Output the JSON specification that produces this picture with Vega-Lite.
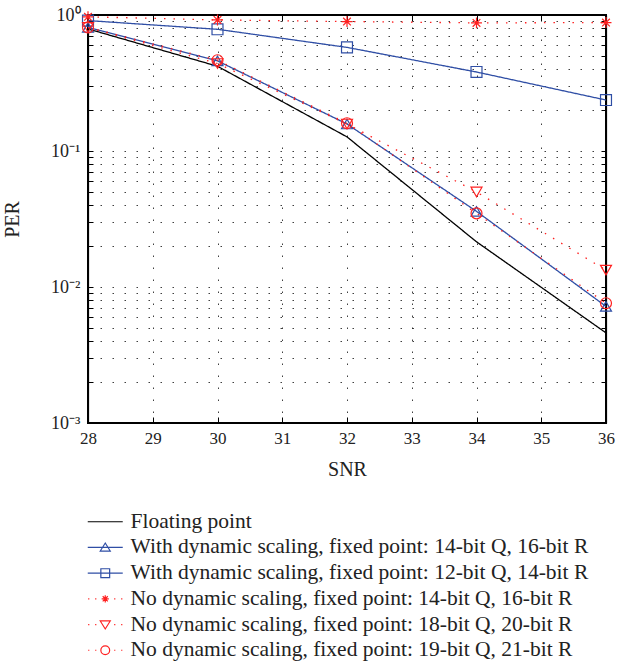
{
  "$schema": "https://vega.github.io/schema/vega-lite/v6.json",
  "width": 518,
  "height": 408,
  "padding": {"left": 2, "top": 6, "right": 5, "bottom": 5},
  "background": "white",
  "config": {
    "view": {"stroke": "#000000", "strokeWidth": 1.2, "strokeOpacity": 1},
    "font": "Liberation Serif",
    "axis": {
      "domainColor": "#000000",
      "domainWidth": 1.2,
      "domainOpacity": 1,
      "tickColor": "#000000",
      "tickWidth": 1,
      "tickOpacity": 1,
      "labelColor": "#222222",
      "titleColor": "#222222",
      "labelFont": "Liberation Serif",
      "titleFont": "Liberation Serif",
      "labelFontSize": 17,
      "titleFontSize": 20,
      "titleFontWeight": "normal",
      "labelFlush": false,
      "gridColor": "#000000",
      "gridOpacity": 0.75,
      "gridWidth": 1,
      "gridDash": [1.5, 10.5]
    }
  },
  "data": {
    "values": [
      {"series": "Floating point", "snr": 28, "per": 0.79},
      {"series": "Floating point", "snr": 30, "per": 0.42},
      {"series": "Floating point", "snr": 32, "per": 0.127},
      {"series": "Floating point", "snr": 34, "per": 0.0215},
      {"series": "Floating point", "snr": 36, "per": 0.0046},
      {"series": "With dynamic scaling, fixed point: 14-bit Q, 16-bit R", "snr": 28, "per": 0.81},
      {"series": "With dynamic scaling, fixed point: 14-bit Q, 16-bit R", "snr": 30, "per": 0.46},
      {"series": "With dynamic scaling, fixed point: 14-bit Q, 16-bit R", "snr": 32, "per": 0.158},
      {"series": "With dynamic scaling, fixed point: 14-bit Q, 16-bit R", "snr": 34, "per": 0.036},
      {"series": "With dynamic scaling, fixed point: 14-bit Q, 16-bit R", "snr": 36, "per": 0.0072},
      {"series": "With dynamic scaling, fixed point: 12-bit Q, 14-bit R", "snr": 28, "per": 0.91},
      {"series": "With dynamic scaling, fixed point: 12-bit Q, 14-bit R", "snr": 30, "per": 0.785},
      {"series": "With dynamic scaling, fixed point: 12-bit Q, 14-bit R", "snr": 32, "per": 0.578},
      {"series": "With dynamic scaling, fixed point: 12-bit Q, 14-bit R", "snr": 34, "per": 0.381},
      {"series": "With dynamic scaling, fixed point: 12-bit Q, 14-bit R", "snr": 36, "per": 0.237},
      {"series": "No dynamic scaling, fixed point: 14-bit Q, 16-bit R", "snr": 28, "per": 0.97},
      {"series": "No dynamic scaling, fixed point: 14-bit Q, 16-bit R", "snr": 30, "per": 0.92},
      {"series": "No dynamic scaling, fixed point: 14-bit Q, 16-bit R", "snr": 32, "per": 0.895},
      {"series": "No dynamic scaling, fixed point: 14-bit Q, 16-bit R", "snr": 34, "per": 0.875},
      {"series": "No dynamic scaling, fixed point: 14-bit Q, 16-bit R", "snr": 36, "per": 0.88},
      {"series": "No dynamic scaling, fixed point: 18-bit Q, 20-bit R", "snr": 28, "per": 0.81},
      {"series": "No dynamic scaling, fixed point: 18-bit Q, 20-bit R", "snr": 30, "per": 0.44},
      {"series": "No dynamic scaling, fixed point: 18-bit Q, 20-bit R", "snr": 32, "per": 0.158},
      {"series": "No dynamic scaling, fixed point: 18-bit Q, 20-bit R", "snr": 34, "per": 0.05},
      {"series": "No dynamic scaling, fixed point: 18-bit Q, 20-bit R", "snr": 36, "per": 0.0133},
      {"series": "No dynamic scaling, fixed point: 19-bit Q, 21-bit R", "snr": 28, "per": 0.81},
      {"series": "No dynamic scaling, fixed point: 19-bit Q, 21-bit R", "snr": 30, "per": 0.465},
      {"series": "No dynamic scaling, fixed point: 19-bit Q, 21-bit R", "snr": 32, "per": 0.16},
      {"series": "No dynamic scaling, fixed point: 19-bit Q, 21-bit R", "snr": 34, "per": 0.0348},
      {"series": "No dynamic scaling, fixed point: 19-bit Q, 21-bit R", "snr": 36, "per": 0.0076}
    ]
  },
  "layer": [
    {
      "mark": {"type": "rect", "fill": null, "fillOpacity": 0, "stroke": "#000000", "strokeWidth": 1.3},
      "encoding": {
        "x": {"datum": 28, "type": "quantitative", "axis": null},
        "x2": {"datum": 36},
        "y": {"datum": 0.001, "type": "quantitative", "axis": null},
        "y2": {"datum": 1}
      }
    },
    {
      "mark": {"type": "line", "strokeWidth": 1.3},
      "encoding": {
        "x": {
          "field": "snr", "type": "quantitative",
          "scale": {"domain": [28, 36], "nice": false, "zero": false},
          "axis": {"orient": "bottom", "title": "SNR", "values": [28, 29, 30, 31, 32, 33, 34, 35, 36], "format": "d", "labelFlush": false, "domain": true, "ticks": true, "tickSize": -6, "labelPadding": 13, "titlePadding": 13, "grid": true}
        },
        "y": {
          "field": "per", "type": "quantitative",
          "scale": {"type": "log", "domain": [0.001, 1], "nice": false},
          "axis": {
            "orient": "left", "title": "PER", "grid": true, "labelFlush": false, "domain": true, "ticks": true, "tickSize": -5, "labelPadding": 13, "titlePadding": 28, "labelFontSize": 18,
            "values": [0.001, 0.002, 0.003, 0.004, 0.005, 0.006, 0.007, 0.008, 0.009, 0.01, 0.02, 0.03, 0.04, 0.05, 0.06, 0.07, 0.08, 0.09, 0.1, 0.2, 0.3, 0.4, 0.5, 0.6, 0.7, 0.8, 0.9, 1],
            "labelExpr": "datum.value == 1 ? '10⁰' : datum.value == 0.1 ? '10⁻¹' : datum.value == 0.01 ? '10⁻²' : datum.value == 0.001 ? '10⁻³' : ''"
          }
        },
        "color": {
          "field": "series", "type": "nominal", "legend": null,
          "scale": {
            "domain": ["Floating point", "With dynamic scaling, fixed point: 14-bit Q, 16-bit R", "With dynamic scaling, fixed point: 12-bit Q, 14-bit R", "No dynamic scaling, fixed point: 14-bit Q, 16-bit R", "No dynamic scaling, fixed point: 18-bit Q, 20-bit R", "No dynamic scaling, fixed point: 19-bit Q, 21-bit R"],
            "range": ["#000000", "#2F4EA5", "#2F4EA5", "#FF2020", "#FF2020", "#FF2020"]
          }
        },
        "strokeDash": {
          "field": "series", "type": "nominal", "legend": null,
          "scale": {
            "domain": ["Floating point", "With dynamic scaling, fixed point: 14-bit Q, 16-bit R", "With dynamic scaling, fixed point: 12-bit Q, 14-bit R", "No dynamic scaling, fixed point: 14-bit Q, 16-bit R", "No dynamic scaling, fixed point: 18-bit Q, 20-bit R", "No dynamic scaling, fixed point: 19-bit Q, 21-bit R"],
            "range": [[1, 0], [1, 0], [1, 0], [1.5, 8], [1.5, 8], [1.5, 8]]
          }
        }
      }
    },
    {
      "transform": [{"filter": "datum.series !== 'Floating point'"}],
      "mark": {"type": "point", "filled": false, "strokeWidth": 1.2, "size": 120, "opacity": 1},
      "encoding": {
        "x": {"field": "snr", "type": "quantitative", "axis": {"orient": "top", "title": null, "labels": false, "grid": false, "domain": true, "ticks": true, "tickSize": -6, "values": [28, 29, 30, 31, 32, 33, 34, 35, 36]}},
        "y": {"field": "per", "type": "quantitative", "axis": {"orient": "right", "title": null, "labels": false, "grid": false, "domain": true, "ticks": true, "tickSize": -5, "values": [0.001, 0.002, 0.003, 0.004, 0.005, 0.006, 0.007, 0.008, 0.009, 0.01, 0.02, 0.03, 0.04, 0.05, 0.06, 0.07, 0.08, 0.09, 0.1, 0.2, 0.3, 0.4, 0.5, 0.6, 0.7, 0.8, 0.9, 1]}},
        "color": {"field": "series", "type": "nominal", "legend": null},
        "shape": {
          "field": "series", "type": "nominal", "legend": null,
          "scale": {
            "domain": ["With dynamic scaling, fixed point: 14-bit Q, 16-bit R", "With dynamic scaling, fixed point: 12-bit Q, 14-bit R", "No dynamic scaling, fixed point: 14-bit Q, 16-bit R", "No dynamic scaling, fixed point: 18-bit Q, 20-bit R", "No dynamic scaling, fixed point: 19-bit Q, 21-bit R"],
            "range": ["triangle-up", "square", "M0,-1V1M-1,0H1M-0.7,-0.7L0.7,0.7M-0.7,0.7L0.7,-0.7", "triangle-down", "circle"]
          }
        }
      }
    },
    {
      "mark": {"type": "point", "opacity": 0},
      "encoding": {
        "x": {"field": "snr", "type": "quantitative", "axis": null},
        "y": {"field": "per", "type": "quantitative", "axis": null},
        "shape": {
          "field": "series", "type": "nominal",
          "scale": {
            "domain": ["Floating point", "With dynamic scaling, fixed point: 14-bit Q, 16-bit R", "With dynamic scaling, fixed point: 12-bit Q, 14-bit R", "No dynamic scaling, fixed point: 14-bit Q, 16-bit R", "No dynamic scaling, fixed point: 18-bit Q, 20-bit R", "No dynamic scaling, fixed point: 19-bit Q, 21-bit R"],
            "range": [
              "M-2.75,0H6",
              "M-2.75,0H6M1.625,-1.1L2.875,0.9L0.375,0.9Z",
              "M-2.75,0H6M0.525,-1.1H2.725V1.1H0.525Z",
              "M-2.65,0H-2.35M-0.9,0H-0.6M1.625,-0.9V0.9M0.725,0H2.525M0.99,-0.64L2.26,0.64M0.99,0.64L2.26,-0.64M3.85,0H4.15M5.6,0H5.9",
              "M-2.65,0H-2.35M-0.9,0H-0.6M0.375,-0.9L2.875,-0.9L1.625,1.1ZM3.85,0H4.15M5.6,0H5.9",
              "M-2.65,0H-2.35M-0.9,0H-0.6M2.725,0A1.1,1.1,0,1,1,0.525,0A1.1,1.1,0,1,1,2.725,0ZM3.85,0H4.15M5.6,0H5.9"
            ]
          },
          "legend": {
            "title": null, "orient": "bottom", "direction": "vertical", "columns": 1, "offset": 32, "padding": 0,
            "symbolSize": 64, "symbolStrokeWidth": 1.2, "symbolFillColor": "transparent", "symbolOpacity": 1,
            "symbolStrokeColor": {"expr": "datum.value == 'Floating point' ? '#000000' : indexof(datum.value, 'With') == 0 ? '#2F4EA5' : '#FF2020'"},
            "labelFont": "Liberation Serif", "labelFontSize": 21.5, "labelColor": "#222222", "labelOffset": 21, "labelLimit": 0, "rowPadding": 2.7
          }
        }
      }
    }
  ],
  "resolve": {"scale": {"shape": "independent"}, "axis": {"x": "independent", "y": "independent"}}
}
